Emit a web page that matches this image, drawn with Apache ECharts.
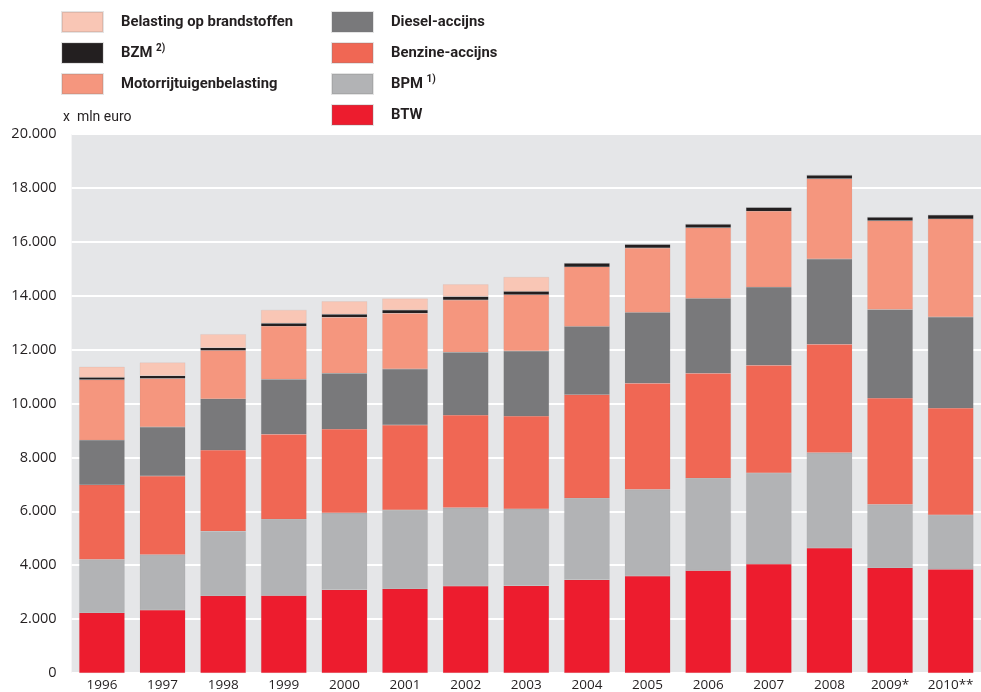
<!DOCTYPE html>
<html><head><meta charset="utf-8">
<script src="https://cdn.jsdelivr.net/npm/echarts@6/dist/echarts.min.js"></script>
<style>html,body{margin:0;padding:0;background:#fff}#c{width:981px;height:692px}</style>
</head><body><div id="c"></div>
<script>
const years = ['1996','1997','1998','1999','2000','2001','2002','2003','2004','2005','2006','2007','2008','2009*','2010**'];
const btw       = [2230,2340,2860,2870,3090,3120,3230,3240,3460,3600,3800,4040,4640,3900,3850];
const bpm       = [1980,2050,2400,2840,2850,2930,2900,2850,3030,3210,3430,3380,3530,2350,2010];
const benzine   = [2770,2920,3010,3150,3110,3150,3440,3440,3840,3940,3890,4000,4030,3950,3970];
const diesel    = [1660,1820,1900,2040,2070,2080,2330,2420,2530,2630,2780,2900,3160,3290,3380];
const motor     = [2240,1800,1800,1970,2080,2070,1940,2090,2210,2390,2620,2820,2980,3290,3640];
const bzm       = [90,100,100,110,110,120,130,120,130,130,130,130,130,130,140];
const brandstof = [390,490,500,490,480,420,450,530,0,0,0,0,0,0,0];
const yTicks = [0,2000,4000,6000,8000,10000,12000,14000,16000,18000,20000];

const names = {
  brand:'Belasting op brandstoffen', bzm:'BZM', motor:'Motorrijtuigenbelasting',
  diesel:'Diesel-accijns', benzine:'Benzine-accijns', bpm:'BPM', btw:'BTW'
};
const colors = {
  brand:'#f9c6b5', bzm:'#231f20', motor:'#f5967e', diesel:'#79797b',
  benzine:'#f06754', bpm:'#b2b3b5', btw:'#ed1c2e'
};
const font = "'Open Sans', sans-serif";
const lfont = "Roboto, sans-serif";
const txt = '#231f20';

function fmt(v){ return String(v).replace(/\B(?=(\d{3})+(?!\d))/g,'.'); }
function mk(key, data){
  return {name:names[key], type:'bar', stack:'t', data:data, barCategoryGap:'25%',
    itemStyle:{color:colors[key], borderColor:'rgba(120,120,120,0.2)', borderWidth:0.4},
    emphasis:{disabled:true}};
}
const legendText = {
  fontFamily:lfont, fontWeight:'bold', fontSize:14.8, color:txt, lineHeight:20, padding:[0,0,0,13],
  rich:{sup:{fontFamily:lfont, fontWeight:'bold', fontSize:10, color:txt, verticalAlign:'top', lineHeight:20, padding:[0,0,8,0]}}
};
function legFmt(n){
  if(n==='BZM') return 'BZM {sup|2)}';
  if(n==='BPM') return 'BPM {sup|1)}';
  return n;
}
const chart = echarts.init(document.getElementById('c'));
chart.setOption({
  animation:false,
  legend:[
    {left:61, top:11, padding:0, orient:'vertical', itemWidth:41, itemHeight:20, itemGap:9, icon:'rect',
     data:[names.brand, names.bzm, names.motor], textStyle:legendText, formatter:legFmt, selectedMode:false},
    {left:331, top:11, padding:0, orient:'vertical', itemWidth:41, itemHeight:20, itemGap:9, icon:'rect',
     data:[names.diesel, names.benzine, names.bpm, names.btw], textStyle:legendText, formatter:legFmt, selectedMode:false}
  ],
  graphic:[{type:'text', left:63, top:110, style:{text:'x  mln euro', fontFamily:lfont, fontSize:14, fill:txt}}],
  grid:{left:71.6, top:134, width:917, bottom:17.7, show:true, backgroundColor:'#e5e6e8', borderWidth:0},
  xAxis:{type:'category', data:years, axisLine:{show:false}, axisTick:{show:false},
    axisLabel:{fontFamily:font, fontSize:13.5, color:txt, margin:5}},
  yAxis:{type:'value', min:0, max:20000, interval:2000, axisLine:{show:false}, axisTick:{show:false},
    splitLine:{lineStyle:{color:'#ffffff', width:2}},
    axisLabel:{fontFamily:font, fontSize:14.5, color:txt, margin:15, formatter:fmt}},
  series:[
    mk('btw',btw), mk('bpm',bpm), mk('benzine',benzine), mk('diesel',diesel),
    mk('motor',motor), mk('bzm',bzm), mk('brand',brandstof)
  ]
});
</script></body></html>
